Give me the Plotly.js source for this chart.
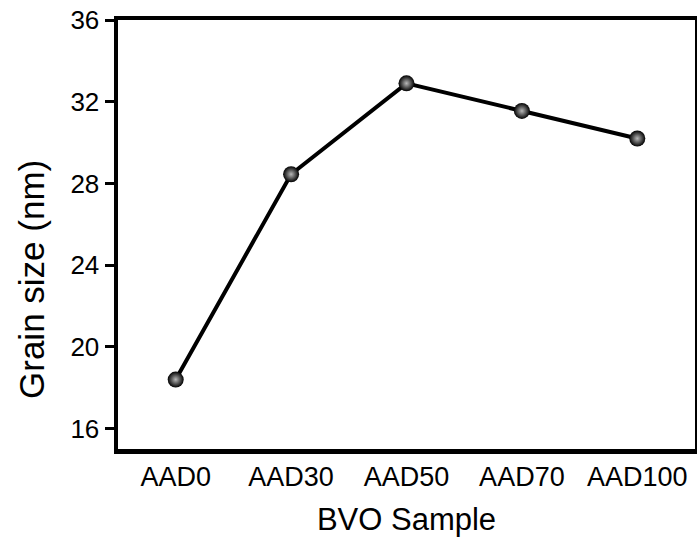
<!DOCTYPE html>
<html>
<head>
<meta charset="utf-8">
<script src="https://cdn.plot.ly/plotly-3.0.1.min.js"></script>
<style>html,body{margin:0;padding:0;background:#fff;}</style>
</head>
<body>
<div id="chart" style="width:697px;height:545px;"></div>
<script>
// Grain size of the BVO samples
const samples = ["AAD0", "AAD30", "AAD50", "AAD70", "AAD100"];
const grainSize = [18.4, 28.45, 32.9, 31.55, 30.2];
const yTicks = [16, 20, 24, 28, 32, 36];
const xTitle = "BVO Sample";
const yTitle = "Grain size (nm)";

const font = "Liberation Sans, Arial, sans-serif";

const trace = {
  x: samples,
  y: grainSize,
  type: "scatter",
  mode: "lines+markers",
  line: {color: "#000", width: 4},
  marker: {
    size: 16,
    color: "#000",
    gradient: {type: "radial", color: "#b8b8b8"},
    line: {width: 0}
  },
  hoverinfo: "skip"
};

const layout = {
  width: 697,
  height: 545,
  margin: {l: 118, r: 2, t: 20, b: 96},
  paper_bgcolor: "#fff",
  plot_bgcolor: "#fff",
  showlegend: false,
  font: {family: font, color: "#000"},
  xaxis: {
    type: "category",
    range: [-0.5, 4.5],
    showline: true, mirror: true, linecolor: "#000", linewidth: 4.5,
    showgrid: false, zeroline: false,
    ticks: "",
    tickfont: {family: font, size: 27, color: "#000"},
    ticklabelstandoff: 0,
    title: {text: xTitle, font: {family: font, size: 31, color: "#000"}, standoff: 19}
  },
  yaxis: {
    range: [15, 36],
    tickvals: yTicks,
    ticktext: yTicks.map(String),
    showline: true, mirror: true, linecolor: "#000", linewidth: 4.5,
    showgrid: false, zeroline: false,
    ticks: "outside", ticklen: 9, tickwidth: 3, tickcolor: "#000",
    tickfont: {family: font, size: 26, color: "#000"}
  },
  // y-axis title sits a little below the middle of the axis
  annotations: [{
    text: yTitle,
    xref: "paper", yref: "paper",
    x: -0.151, y: 0.396,
    xanchor: "center", yanchor: "middle",
    textangle: -90,
    showarrow: false,
    font: {family: font, size: 35, color: "#000"}
  }]
};

Plotly.newPlot("chart", [trace], layout, {displayModeBar: false, staticPlot: true});
</script>
</body>
</html>
